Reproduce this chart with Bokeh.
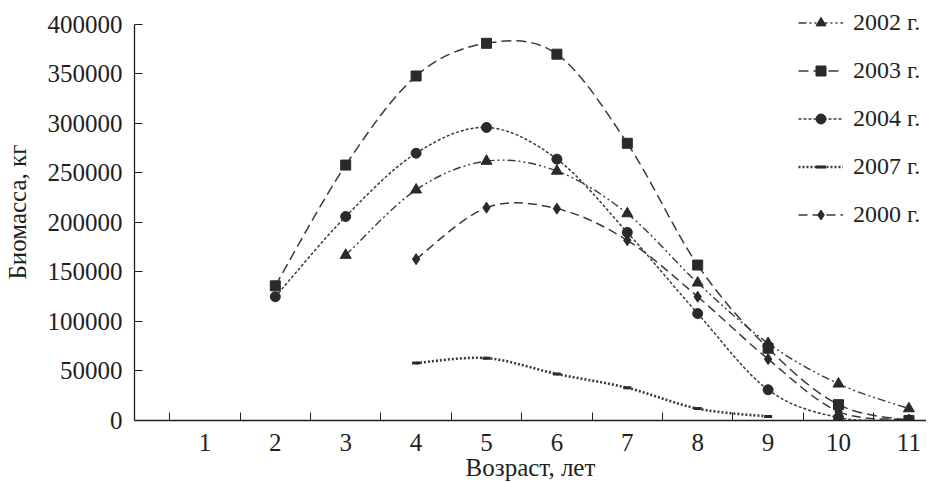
from bokeh.plotting import figure
from bokeh.models import (Range1d, FixedTicker, BasicTickFormatter, Legend,
                          LegendItem, ColumnDataSource)
from bokeh.embed import file_html
from bokeh.resources import INLINE

# ---- data (biomass, kg, by age in years) ----
age_2002 = [3, 4, 5, 6, 7, 8, 9, 10, 11]
bio_2002 = [167000, 233000, 262000, 252000, 209000, 139000, 78000, 37000, 12000]

age_2003 = [2, 3, 4, 5, 6, 7, 8, 9, 10, 11]
bio_2003 = [136000, 258000, 348000, 381000, 370000, 280000, 157000, 73000, 16000, 0]

age_2004 = [2, 3, 4, 5, 6, 7, 8, 9, 10, 11]
bio_2004 = [125000, 206000, 270000, 296000, 264000, 190000, 108000, 31000, 3000, 500]

age_2007 = [4, 5, 6, 7, 8, 9]
bio_2007 = [58000, 63000, 47000, 33000, 12000, 4000]

age_2000 = [4, 5, 6, 7, 8, 9, 10, 11]
bio_2000 = [163000, 215000, 214000, 182000, 125000, 62000, 9000, 1000]

series_names = ["2002 г.", "2003 г.", "2004 г.", "2007 г.", "2000 г."]
x_ticks = list(range(1, 12))
y_ticks = [0, 50000, 100000, 150000, 200000, 250000, 300000, 350000, 400000]

FONT = "Liberation Serif"
TXT = "#231f20"
LINE = "#3a3a3a"
MARK = "#2a2a2a"


def smooth_controls(xs, ys):
    """Bezier control points of a smoothed (Catmull-Rom style) line."""
    n = len(xs)
    d = dict(x0=[], y0=[], x1=[], y1=[], cx0=[], cy0=[], cx1=[], cy1=[])
    for i in range(n - 1):
        xp, yp = (xs[i - 1], ys[i - 1]) if i > 0 else (xs[i], ys[i])
        xn, yn = (xs[i + 2], ys[i + 2]) if i + 2 < n else (xs[i + 1], ys[i + 1])
        d["x0"].append(xs[i]); d["y0"].append(ys[i])
        d["x1"].append(xs[i + 1]); d["y1"].append(ys[i + 1])
        d["cx0"].append(xs[i] + (xs[i + 1] - xp) / 6.0)
        d["cy0"].append(ys[i] + (ys[i + 1] - yp) / 6.0)
        d["cx1"].append(xs[i + 1] - (xn - xs[i]) / 6.0)
        d["cy1"].append(ys[i + 1] - (yn - ys[i]) / 6.0)
    return d


# frame reaches a little above the top tick so the legend has room;
# the y axis line itself stops at the top tick (bounds)
p = figure(width=926, height=486, x_range=Range1d(0, 11.25),
           y_range=Range1d(0, 421200), output_backend="svg",
           toolbar_location=None, min_border_left=127, min_border_right=0,
           min_border_top=3, min_border_bottom=66)
p.xgrid.visible = False
p.ygrid.visible = False
p.outline_line_color = None
p.background_fill_color = "white"
p.border_fill_color = "white"

xa = p.xaxis[0]
xa.ticker = FixedTicker(ticks=x_ticks, minor_ticks=[t - 0.5 for t in x_ticks])
xa.major_tick_line_color = None
xa.minor_tick_in = 8
xa.minor_tick_out = 0
xa.minor_tick_line_color = TXT
xa.axis_line_color = TXT
xa.axis_line_width = 1.3
xa.major_label_standoff = 7
xa.axis_label = "Возраст, лет"
xa.axis_label_standoff = 0

ya = p.yaxis[0]
ya.ticker = FixedTicker(ticks=y_ticks)
ya.formatter = BasicTickFormatter(use_scientific=False)
ya.bounds = (y_ticks[0], y_ticks[-1])
ya.major_tick_in = 8
ya.major_tick_out = 0
ya.minor_tick_line_color = None
ya.major_tick_line_color = TXT
ya.axis_line_color = TXT
ya.axis_line_width = 1.3
ya.major_label_standoff = 12
ya.axis_label = "Биомасса, кг"
ya.axis_label_standoff = 14

for ax in (xa, ya):
    ax.major_label_text_font = FONT
    ax.major_label_text_font_size = "25px"
    ax.major_label_text_color = TXT
    ax.axis_label_text_font = FONT
    ax.axis_label_text_font_size = "25px"
    ax.axis_label_text_font_style = "normal"
    ax.axis_label_text_color = TXT

specs = [
    (series_names[0], age_2002, bio_2002, "triangle", 11, "8 3 2 3 2 3", 1.4, 1),
    (series_names[1], age_2003, bio_2003, "square", 10, "10 5", 1.5, 1),
    (series_names[2], age_2004, bio_2004, "circle", 10, "3 2", 1.5, 1),
    (series_names[3], age_2007, bio_2007, "dash", 8, "2 2", 2.6, 3),
    (series_names[4], age_2000, bio_2000, "diamond", 11, "9 5", 1.5, 1),
]

items = []
for name, xs, ys, marker, size, dash, lw, mlw in specs:
    ctrl = ColumnDataSource(smooth_controls(xs, ys))
    p.bezier(x0="x0", y0="y0", x1="x1", y1="y1", cx0="cx0", cy0="cy0",
             cx1="cx1", cy1="cy1", source=ctrl, line_color=LINE,
             line_dash=dash, line_width=lw)
    # single-point line: draws nothing in the plot, only the legend sample
    leg_line = p.line(x=xs[:1], y=ys[:1], line_color=LINE, line_dash=dash,
                      line_width=lw)
    pts = ColumnDataSource(dict(x=xs, y=ys))
    sc = p.scatter(x="x", y="y", source=pts, marker=marker, size=size,
                   fill_color=MARK, line_color=MARK, line_width=mlw)
    items.append(LegendItem(label=name, renderers=[leg_line, sc]))

legend = Legend(items=items, location=(664, 192), padding=0, margin=0,
                spacing=21, glyph_width=45, glyph_height=25, label_height=25,
                label_standoff=10, border_line_color=None,
                background_fill_alpha=0, label_text_font=FONT,
                label_text_font_size="24px", label_text_color=TXT)
p.add_layout(legend)

open("out.html", "w").write(file_html(p, INLINE))
